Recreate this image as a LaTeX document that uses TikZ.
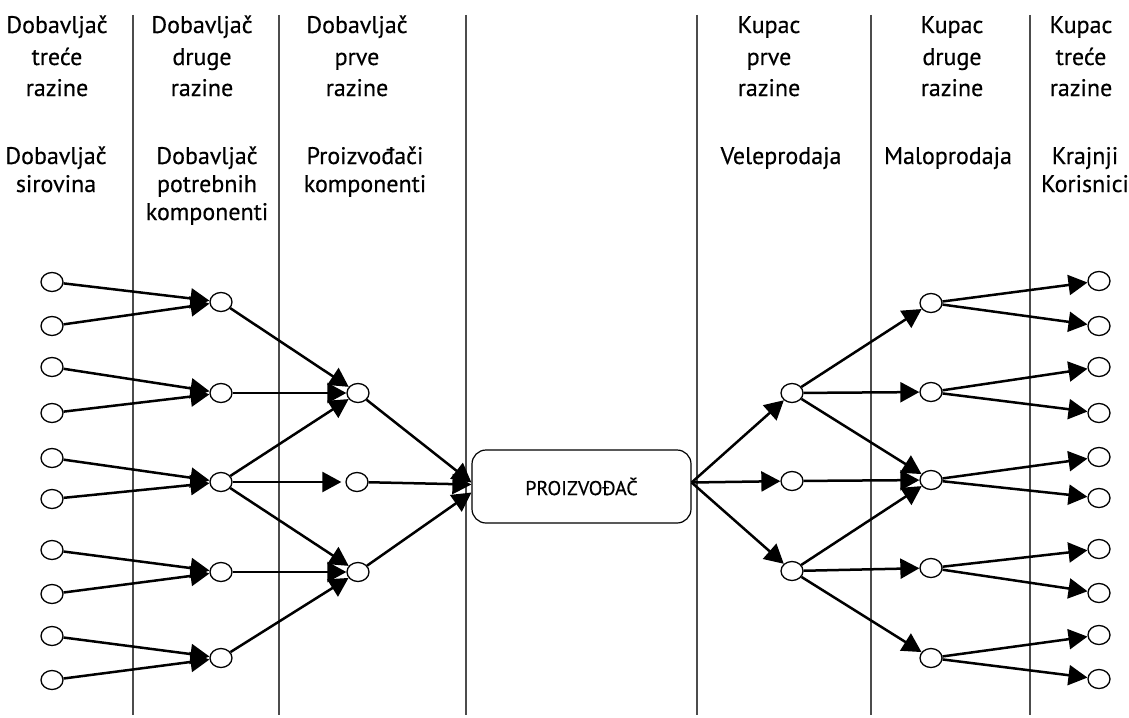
\documentclass[tikz,border=0pt]{standalone}
\usepackage{fontspec}
\setmainfont{PT Sans}
\newfontfamily\hfont{PT Sans}[FakeBold=0.4]
\usetikzlibrary{shapes.geometric,arrows.meta}
\begin{document}
\begin{tikzpicture}[x=1pt,y=-1pt,
  hd/.style={anchor=base,inner sep=0pt,font=\hfont\fontsize{24}{28}\selectfont},
  nd/.style={draw,ellipse,minimum width=22pt,minimum height=19pt,inner sep=0pt,line width=1.3pt},
  ar/.style={line width=2.5pt,-{Triangle[length=19pt,width=20pt]}},
  sep/.style={line width=1.2pt,draw=black!70},
  boxst/.style={draw,rounded corners=14pt,minimum width=219pt,minimum height=73pt,line width=1.2pt,font=\hfont\fontsize{20}{24}\selectfont}]
\useasboundingbox (0,0) rectangle (1129,717);
% separators
\foreach \x in {133,279,466,697,871,1030} \draw[sep] (\x,15) -- (\x,715);
% headers
\node[hd] (h1a) at (57,33) {Dobavljač};
\node[hd] (h1b) at (57,65) {treće};
\node[hd] (h1c) at (57,96) {razine};
\node[hd] (s1a) at (56,164) {Dobavljač};
\node[hd] (s1b) at (56,192) {sirovina};
\node[hd] (h2a) at (202,33) {Dobavljač};
\node[hd] (h2b) at (202,65) {druge};
\node[hd] (h2c) at (202,96) {razine};
\node[hd] (s2a) at (207,164) {Dobavljač};
\node[hd] (s2b) at (207,192) {potrebnih};
\node[hd] (s2c) at (207,220) {komponenti};
\node[hd] (h3a) at (357,33) {Dobavljač};
\node[hd] (h3b) at (357,65) {prve};
\node[hd] (h3c) at (357,96) {razine};
\node[hd] (s3a) at (365,164) {Proizvođači};
\node[hd] (s3b) at (365,192) {komponenti};
\node[hd] (h5a) at (769,33) {Kupac};
\node[hd] (h5b) at (769,65) {prve};
\node[hd] (h5c) at (769,96) {razine};
\node[hd] (s5a) at (781,164) {Veleprodaja};
\node[hd] (h6a) at (952,33) {Kupac};
\node[hd] (h6b) at (952,65) {druge};
\node[hd] (h6c) at (952,96) {razine};
\node[hd] (s6a) at (948,164) {Maloprodaja};
\node[hd] (h7a) at (1081,33) {Kupac};
\node[hd] (h7b) at (1081,65) {treće};
\node[hd] (h7c) at (1081,96) {razine};
\node[hd] (s7a) at (1085,164) {Krajnji};
\node[hd] (s7b) at (1085,192) {Korisnici};
% nodes
\foreach \n/\y in {1/282,2/326,3/367,4/413,5/458,6/499,7/550,8/594,9/636,10/680}
  \node[nd] (L\n) at (52,\y) {};
\foreach \n/\y in {A/302,B/393,C/482,D/572,E/658}
  \node[nd] (\n) at (221,\y) {};
\node[nd] (P) at (358,393) {};
\node[nd] (Q) at (357,482) {};
\node[nd] (R) at (358,572) {};
\node[boxst] (box) at (581.5,486.5) {PROIZVOĐAČ};
\foreach \n/\y in {1/393,2/481,3/571}
  \node[nd] (V\n) at (792,\y) {};
\foreach \n/\y in {1/303,2/392,3/480,4/568,5/658}
  \node[nd] (M\n) at (931,\y) {};
\foreach \n/\y in {1/281,2/326,3/367,4/413,5/457,6/498,7/549,8/593,9/635,10/679}
  \node[nd] (K\n) at (1099,\y) {};
% connectors
\draw[ar] (L1) -- (A); \draw[ar] (L2) -- (A);
\draw[ar] (L3) -- (B); \draw[ar] (L4) -- (B);
\draw[ar] (L5) -- (C); \draw[ar] (L6) -- (C);
\draw[ar] (L7) -- (D); \draw[ar] (L8) -- (D);
\draw[ar] (L9) -- (E); \draw[ar] (L10) -- (E);
\draw[ar] (A) -- (P); \draw[ar] (B) -- (P); \draw[ar] (C) -- (P);
\draw[ar,shorten >=4pt] (C) -- (Q);
\draw[ar] (C) -- (R); \draw[ar] (D) -- (R); \draw[ar] (E) -- (R);
\draw[ar] (P) -- ([yshift=4pt]box.west);
\draw[ar] (Q) -- ([yshift=2pt]box.west);
\draw[ar] (R) -- ([yshift=-6pt]box.west);
\coordinate (bo) at ([yshift=4pt]box.east);
\draw[ar] (bo) -- (V1); \draw[ar] (bo) -- (V2); \draw[ar] (bo) -- (V3);
\draw[ar] (V1) -- (M1); \draw[ar] (V1) -- (M2); \draw[ar] (V1) -- (M3);
\draw[ar] (V2) -- (M3);
\draw[ar] (V3) -- (M3); \draw[ar] (V3) -- (M4); \draw[ar] (V3) -- (M5);
\draw[ar] (M1) -- (K1); \draw[ar] (M1) -- (K2);
\draw[ar] (M2) -- (K3); \draw[ar] (M2) -- (K4);
\draw[ar] (M3) -- (K5); \draw[ar] (M3) -- (K6);
\draw[ar] (M4) -- (K7); \draw[ar] (M4) -- (K8);
\draw[ar] (M5) -- (K9); \draw[ar] (M5) -- (K10);
\end{tikzpicture}
\end{document}
